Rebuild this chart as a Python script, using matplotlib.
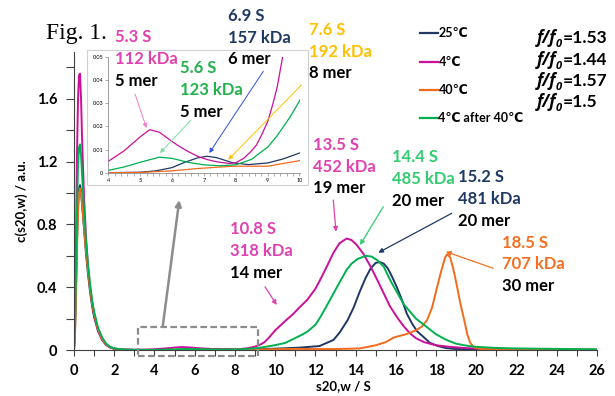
import numpy as np
import matplotlib
matplotlib.use("Agg")
import matplotlib.pyplot as plt
from matplotlib.patches import Rectangle, FancyArrowPatch
from matplotlib.lines import Line2D

plt.rcParams['font.family'] = ['Lato', 'DejaVu Sans']
plt.rcParams['font.weight'] = 'bold'

# ---- data ----
# 25 C
s_25 = [0, .05, .1, .15, .2, .25, .3, .35, .4, .5, .6, .7, .8, .9, 1.0, 1.2, 1.4, 1.6, 1.8, 2.0,
        2.5, 3.0, 4.0, 5.0, 5.5, 6.0, 6.4, 6.8, 7.1, 7.4, 7.9, 8.4, 9.0, 9.5, 10.0, 10.5, 11.2,
        12.2, 12.9, 13.2, 13.6, 13.9, 14.2, 14.5, 14.75, 15.0, 15.2, 15.4, 15.6, 15.8, 16.05,
        16.3, 16.55, 16.8, 17.05, 17.4, 17.7, 18.1, 18.5, 19, 20, 22, 24, 26]
c_25 = [0, .12, .4, .7, .92, 1.03, 1.05, 1.01, .93, .77, .61, .48, .37, .28, .21, .12, .065,
        .032, .016, .008, .002, .0005, 0, .0002, .0008, .0022, .0045, .0064, .0071, .0065,
        .0043, .0035, .0042, .006, .0085, .011, .015, .025, .064, .11, .19, .27, .37, .46, .52,
        .555, .56, .55, .52, .47, .40, .32, .23, .17, .12, .08, .045, .025, .012, .006, .003,
        .002, .001, 0]
# 4 C
s_4 = [0, .05, .1, .15, .2, .25, .3, .35, .4, .5, .6, .7, .8, .9, 1.0, 1.2, 1.4, 1.6, 1.8, 2.0,
       2.5, 3.0, 3.5, 4.0, 4.5, 5.0, 5.3, 5.6, 6.0, 6.25, 6.5, 6.85, 7.1, 7.4, 7.8, 8.0, 8.25,
       8.5, 8.65, 8.8, 9.0, 9.15, 9.3, 9.47, 9.7, 10.0, 10.5, 10.9, 11.2, 11.6, 12.0, 12.25,
       12.6, 12.9, 13.2, 13.55, 13.8, 14.05, 14.4, 14.75, 15.1, 15.4, 15.7, 16.05, 16.4, 16.7,
       17.0, 17.4, 18.0, 18.7, 19.5, 20.5, 22, 24, 26]
c_4 = [0, .2, .7, 1.25, 1.6, 1.75, 1.76, 1.6, 1.35, .97, .71, .53, .4, .3, .22, .12, .065, .033,
       .016, .008, .003, .0015, .0025, .0049, .0095, .0155, .0186, .0175, .0135, .0112, .0092,
       .0068, .0057, .0047, .0040, .0043, .0062, .0095, .012, .016, .022, .029, .037, .05, .08,
       .125, .185, .23, .27, .32, .39, .45, .54, .62, .68, .71, .70, .67, .61, .53, .44, .36, .28,
       .21, .15, .106, .075, .05, .03, .02, .012, .008, .005, .003, .002]
# 40 C
s_40 = [0, .05, .1, .15, .2, .25, .3, .35, .4, .5, .6, .7, .8, .9, 1.0, 1.2, 1.4, 1.6, 1.8, 2.0,
        2.5, 3.0, 4.0, 5.0, 6.0, 6.8, 7.9, 9.0, 10.0, 11, 12, 13, 14.2, 15.0, 15.5, 15.9, 16.5,
        17.0, 17.3, 17.55, 17.8, 18.05, 18.25, 18.45, 18.55, 18.7, 18.85, 19.05, 19.2, 19.4,
        19.55, 19.7, 19.9, 20.2, 21, 22, 24, 26]
c_40 = [0, .1, .35, .65, .88, 1.0, 1.03, 1.0, .93, .78, .62, .5, .39, .3, .23, .13, .07, .035,
        .018, .009, .002, 0, 0, .0001, .0008, .0018, .0028, .0028, .0052, .007, .006, .006, .01,
        .03, .05, .08, .10, .125, .15, .19, .27, .40, .50, .59, .61, .59, .52, .40, .30, .19,
        .10, .045, .015, .007, .005, .004, .003, .002]
# 4 C after 40 C
s_4a = [0, .05, .1, .15, .2, .25, .3, .35, .4, .5, .6, .7, .8, .9, 1.0, 1.2, 1.4, 1.6, 1.8, 2.0,
        2.5, 3.0, 3.5, 4.0, 4.5, 5.0, 5.6, 6.0, 6.5, 7.0, 7.5, 8.0, 8.5, 8.75, 9.0, 9.3, 9.7,
        10.0, 10.5, 10.9, 11.3, 11.6, 12.0, 12.25, 12.6, 12.9, 13.2, 13.55, 13.8, 14.1, 14.5,
        14.8, 15.1, 15.4, 15.7, 16.0, 16.4, 17.0, 17.5, 18.0, 18.5, 19.0, 19.5, 20, 21, 22, 24, 26]
c_4a = [0, .15, .5, .9, 1.18, 1.29, 1.31, 1.24, 1.12, .89, .69, .54, .42, .32, .245, .14, .08,
        .04, .02, .01, .003, .0012, .001, .001, .0025, .0045, .0067, .0062, .0045, .0034, .003,
        .0034, .0058, .0085, .011, .016, .024, .031, .045, .07, .095, .117, .16, .21, .29, .36,
        .43, .51, .55, .58, .60, .595, .57, .53, .45, .38, .29, .20, .15, .10, .065, .04, .028,
        .02, .013, .01, .007, .004]

names = ['25℃', '4℃', '40℃', '4℃ after 40℃']
colors = ['#1f3864', '#cc0f99', '#f26b1d', '#00b050']
series = [(s_25, c_25), (s_4, c_4), (s_40, c_40), (s_4a, c_4a)]
ffo = ['1.53', '1.44', '1.57', '1.5']

x_ticks = list(range(0, 27, 2))
y_ticks = [0, 0.4, 0.8, 1.2, 1.6]
y_ticklabels = ['0', '0.4', '0.8', '1.2', '1.6']
in_yticks = [0, 0.01, 0.02, 0.03, 0.04, 0.05]
in_yticklabels = ['0', '0.01', '0.02', '0.03', '0.04', '0.05']

W, H = 615, 396


def fx(px):
    return px / W


def fy(py):
    return 1 - py / H


fig = plt.figure(figsize=(6.15, 3.96), dpi=100)
ax = fig.add_axes([fx(74), fy(350), fx(597) - fx(74), fy(51.7) - fy(350)])
ax.set_zorder(0)
for (s, c), col in zip(series, colors):
    ax.plot(s, c, color=col, lw=1.4)
ax.set_xlim(0, 26)
ax.set_ylim(0, 1.9)
for sp in ['top', 'right']:
    ax.spines[sp].set_visible(False)
for sp in ['left', 'bottom']:
    ax.spines[sp].set_color('#404040')
    ax.spines[sp].set_linewidth(0.8)
ax.set_xticks(x_ticks)
ax.set_xticks(range(0, 27), minor=True)
ax.set_yticks(y_ticks)
ax.set_yticklabels(y_ticklabels)
ax.set_yticks(np.arange(0, 1.81, 0.2), minor=True)
ax.tick_params(which='both', direction='out', length=4, width=0.8, color='#404040')
ax.tick_params(axis='y', which='both', length=6)
ax.tick_params(labelsize=10.5, pad=6)
ax.set_xlabel('s20,w / S', fontsize=9.5, fontweight='bold', labelpad=0)
ax.xaxis.set_label_coords(0.515, -0.1)
ax.set_ylabel('c(s20,w) / a.u.', fontsize=9.5, fontweight='bold')
ax.yaxis.set_label_coords(-0.088, 0.5)

# dashed box marking zoomed region
ax.add_patch(Rectangle((3.2, -0.04), 5.95, 0.185, fill=False, ls=(0, (3, 1.5)), lw=1.6,
                       ec='#8c8c8c', clip_on=False, zorder=5))

# inset frame
fig.add_artist(Rectangle((fx(87), fy(185)), fx(308) - fx(87), fy(50) - fy(185),
                         transform=fig.transFigure, fc='white', ec='#d0d0d0', lw=0.8, zorder=1.5))
ins = fig.add_axes([fx(108.3), fy(172.7), fx(299.5) - fx(108.3), fy(57) - fy(172.7)])
ins.set_zorder(2)
for (s, c), col in zip(series, colors):
    ins.plot(s, c, color=col, lw=0.9)
ins.set_xlim(4, 10)
ins.set_ylim(0, 0.05)
ins.set_xticks(range(4, 11))
ins.set_xticks(np.arange(4, 10.01, 0.2), minor=True)
ins.set_yticks(in_yticks)
ins.set_yticklabels(in_yticklabels)
for sp in ['top', 'right']:
    ins.spines[sp].set_visible(False)
for sp in ['left', 'bottom']:
    ins.spines[sp].set_color('#8c8c8c')
    ins.spines[sp].set_linewidth(0.6)
ins.tick_params(which='both', direction='out', length=2, width=0.5, color='#8c8c8c',
                labelsize=4, pad=1.5)
for lab in ins.get_xticklabels() + ins.get_yticklabels():
    lab.set_fontweight('normal')

# legend
leg_y = [32.7, 61.7, 90, 118.3]
for name, col, y in zip(names, colors, leg_y):
    fig.add_artist(Line2D([fx(420), fx(438)], [fy(y), fy(y)], color=col, lw=1.6,
                          transform=fig.transFigure))
    fig.text(fx(438.5), fy(y), name, fontsize=9, fontweight='bold', va='center', ha='left')

# f/f0 values, built from pieces so the italic part stays bold
ff_y = [43, 64.7, 86.4, 107.4]
ital = ['Open Sans', 'Noto Sans', 'DejaVu Sans']
renderer = fig.canvas.get_renderer()
for v, y in zip(ffo, ff_y):
    t1 = fig.text(fx(537), fy(y), 'f/f', fontsize=12, fontweight='bold', fontstyle='italic',
                  family=ital, va='baseline', ha='left')
    bb = t1.get_window_extent(renderer)
    t2 = fig.text(bb.x1 / W - 0.001, fy(y + 4), '0', fontsize=8, fontweight='bold',
                  fontstyle='italic', family=ital, va='baseline', ha='left')
    bb2 = t2.get_window_extent(renderer)
    fig.text(bb2.x1 / W + 0.001, fy(y), '=' + v, fontsize=12.5, fontweight='bold',
             va='baseline', ha='left')

fig.text(fx(46), fy(33), 'Fig. 1.', family='Liberation Serif', fontsize=17,
         fontweight='normal', va='center', ha='left')

# peak annotations: (x, first-line y, [(text, color)...])
pink = '#e040b0'
lgreen = '#33cc70'
navy = '#1f3864'
orange = '#f47020'
yellow = '#ffc000'
notes = [
    (115, 37.3, [('5.3 S', pink), ('112 kDa', pink), ('5 mer', 'black')]),
    (228.5, 16, [('6.9 S', navy), ('157 kDa', navy), ('6 mer', 'black')]),
    (180, 68.3, [('5.6 S', '#22b14c'), ('123 kDa', '#22b14c'), ('5 mer', 'black')]),
    (309, 30, [('7.6 S', yellow), ('192 kDa', yellow), ('8 mer', 'black')]),
    (313, 145, [('13.5 S', pink), ('452 kDa', pink), ('19 mer', 'black')]),
    (391.5, 157.3, [('14.4 S', lgreen), ('485 kDa', lgreen), ('20 mer', 'black')]),
    (458.5, 177.3, [('15.2 S', navy), ('481 kDa', navy), ('20 mer', 'black')]),
    (501.5, 242.7, [('18.5 S', orange), ('707 kDa', orange), ('30 mer', 'black')]),
    (229.5, 229.3, [('10.8 S', pink), ('318 kDa', pink), ('14 mer', 'black')]),
]
for x0, y0, lines in notes:
    for i, (t, col) in enumerate(lines):
        fig.text(fx(x0), fy(y0 + i * 21.7), t, color=col, fontsize=12, fontweight='bold',
                 va='center', ha='left', zorder=4)

arrows = [
    ((135, 94), (146.5, 128), '#f080c8', 0.7),
    ((191, 120), (160, 153), '#80e0a0', 0.7),
    ((263.3, 71.3), (209.3, 153), '#3050e0', 0.7),
    ((301.7, 84.7), (228.3, 159.7), '#ffc000', 0.7),
    ((333.3, 200), (336, 231.7), pink, 0.9),
    ((383.3, 206.7), (360, 245), lgreen, 0.9),
    ((451.7, 213.3), (378.3, 252.7), navy, 0.9),
    ((493.3, 268.3), (446, 251.7), orange, 0.9),
    ((265, 286.7), (276.7, 305), pink, 0.9),
    ((162.7, 326.7), (179.3, 200), '#8c8c8c', 1.8),
]
for (ax0, ay0), (ax1, ay1), col, lw in arrows:
    fig.add_artist(FancyArrowPatch((fx(ax0), fy(ay0)), (fx(ax1), fy(ay1)),
                                   transform=fig.transFigure, arrowstyle='-|>',
                                   mutation_scale=5 + 2 * lw, lw=lw, color=col,
                                   shrinkA=0, shrinkB=0, zorder=5))

fig.savefig('out.png', dpi=100)
